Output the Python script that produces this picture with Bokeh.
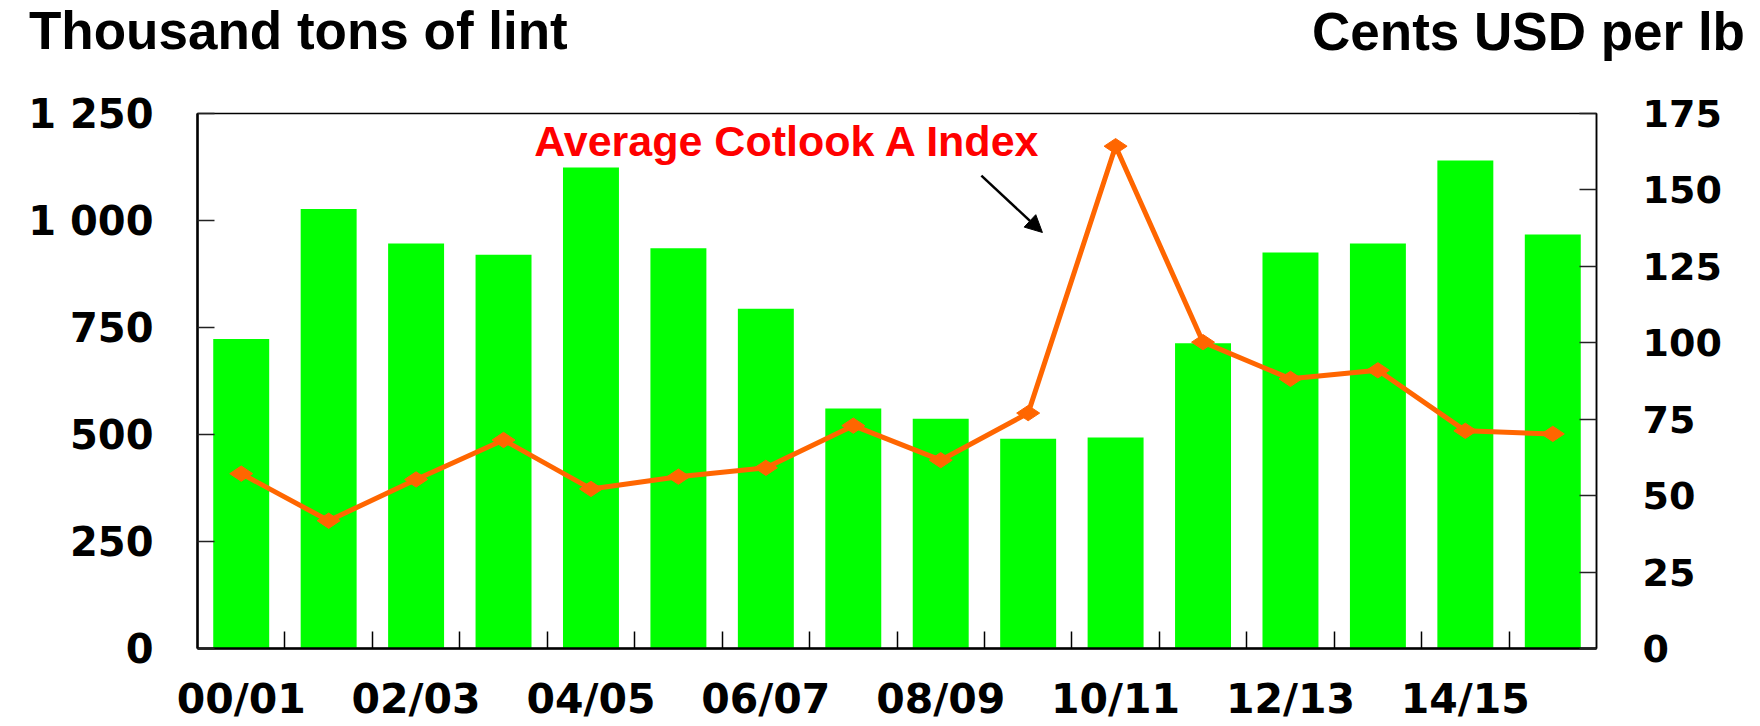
import math
from bokeh.plotting import figure
from bokeh.layouts import column
from bokeh.models import Range1d, LinearAxis, FixedTicker, Label, Arrow, NormalHead, Div
from bokeh.embed import file_html
from bokeh.resources import INLINE

# ---------------- data ----------------
seasons = ["00/01", "01/02", "02/03", "03/04", "04/05", "05/06", "06/07", "07/08",
           "08/09", "09/10", "10/11", "11/12", "12/13", "13/14", "14/15", "15/16"]
production = [723, 1027, 946, 920, 1124, 935, 794, 561, 537, 490, 493, 713, 925, 946, 1140, 967]
cotlook = [57.2, 41.8, 55.3, 68.2, 52.2, 56.2, 59.1, 72.9, 61.6, 77.0, 164.3, 100.2, 88.2, 91.0, 71.2, 70.2]
left_ticks = [0, 250, 500, 750, 1000, 1250]
left_tick_labels = ["0", "250", "500", "750", "1 000", "1 250"]
right_ticks = [0, 25, 50, 75, 100, 125, 150, 175]
left_title = "Thousand tons of lint"
right_title = "Cents USD per lb"
series_label = "Average Cotlook A Index"

W = 1752
HEAD_H = 64
MAIN_H = 661

n = len(seasons)
xc = [i + 0.5 for i in range(n)]
label_ticks = [xc[i] for i in range(0, n, 2)]
label_text = {xc[i]: seasons[i] for i in range(0, n, 2)}
boundaries = [i for i in range(1, n)]

# ---------------- header with the two unit titles ----------------
span_style = ("position:absolute;white-space:nowrap;font-family:'Liberation Sans',Arial,sans-serif;"
              "font-weight:bold;font-size:53px;line-height:53px;color:#000;margin:0;padding:0;")
head_html = (
    f'<div style="position:relative;width:{W}px;height:{HEAD_H}px;margin:0;padding:0;">'
    f'<span style="{span_style}left:29px;top:4px;">{left_title}</span>'
    f'<span style="{span_style}right:7px;top:5px;">{right_title}</span>'
    '</div>'
)
head = Div(text=head_html, width=W, height=HEAD_H, margin=0)

# ---------------- main chart ----------------
p = figure(width=W, height=MAIN_H, output_backend="svg", toolbar_location=None,
           x_range=Range1d(0, n), y_range=Range1d(0, 1250),
           min_border_left=197, min_border_right=W - 1596, min_border_top=113 - HEAD_H,
           min_border_bottom=MAIN_H - (649 - HEAD_H), margin=0)
p.title.visible = False
p.grid.visible = False
p.background_fill_color = "white"
p.border_fill_color = "white"
p.outline_line_color = "black"
p.outline_line_width = 1.5

p.extra_y_ranges = {"price": Range1d(0, 175)}

# bars
p.vbar(x=xc, top=production, width=0.64, fill_color="#00FF00", line_color=None)

# price line
p.line(x=xc, y=cotlook, y_range_name="price", line_color="#FF6600", line_width=5)
p.scatter(x=xc, y=cotlook, y_range_name="price", marker="diamond", size=23,
          angle=math.pi / 2, fill_color="#FF6600", line_color="#FF6600")

# x axis
xa = p.xaxis[0]
xa.ticker = FixedTicker(ticks=label_ticks, minor_ticks=boundaries)
xa.major_label_overrides = label_text
xa.major_tick_in = 0
xa.major_tick_out = 0
xa.minor_tick_in = 17
xa.minor_tick_out = 0
xa.minor_tick_line_color = "black"
xa.minor_tick_line_width = 1.5
xa.axis_line_color = "black"
xa.axis_line_width = 2.5
xa.major_label_standoff = 26
xa.major_label_text_font = "DejaVu Sans"
xa.major_label_text_font_style = "bold"
xa.major_label_text_font_size = "41px"
xa.major_label_text_color = "black"

# left axis
ya = p.yaxis[0]
ya.ticker = FixedTicker(ticks=left_ticks)
ya.major_label_overrides = {t: s for t, s in zip(left_ticks, left_tick_labels)}
ya.major_tick_in = 17
ya.major_tick_out = 0
ya.major_tick_line_color = "#222222"
ya.major_tick_line_width = 1.5
ya.minor_tick_line_color = None
ya.axis_line_color = "black"
ya.axis_line_width = 2.5
ya.major_label_standoff = 44
ya.major_label_text_font = "DejaVu Sans"
ya.major_label_text_font_style = "bold"
ya.major_label_text_font_size = "40px"
ya.major_label_text_color = "black"

# right axis
ra = LinearAxis(y_range_name="price", ticker=FixedTicker(ticks=right_ticks))
ra.major_tick_in = 17
ra.major_tick_out = 0
ra.major_tick_line_color = "#222222"
ra.major_tick_line_width = 1.5
ra.minor_tick_line_color = None
ra.axis_line_color = "black"
ra.axis_line_width = 1.5
ra.major_label_standoff = 46
ra.major_label_text_font = "DejaVu Sans"
ra.major_label_text_font_style = "bold"
ra.major_label_text_font_size = "38px"
ra.major_label_text_color = "black"
p.add_layout(ra, "right")

# series annotation
p.add_layout(Label(x=3.852, y=1186, text=series_label, text_font="Liberation Sans",
                   text_font_style="bold", text_font_size="43px", text_color="#FF0000",
                   text_align="left", text_baseline="alphabetic"))
p.add_layout(Arrow(end=NormalHead(size=17, fill_color="black", line_color="black"),
                   x_start=8.965, y_start=1105, x_end=9.663, y_end=972,
                   line_width=2.5, line_color="black"))

layout = column(head, p, spacing=0)
open("out.html", "w").write(file_html(layout, INLINE))
